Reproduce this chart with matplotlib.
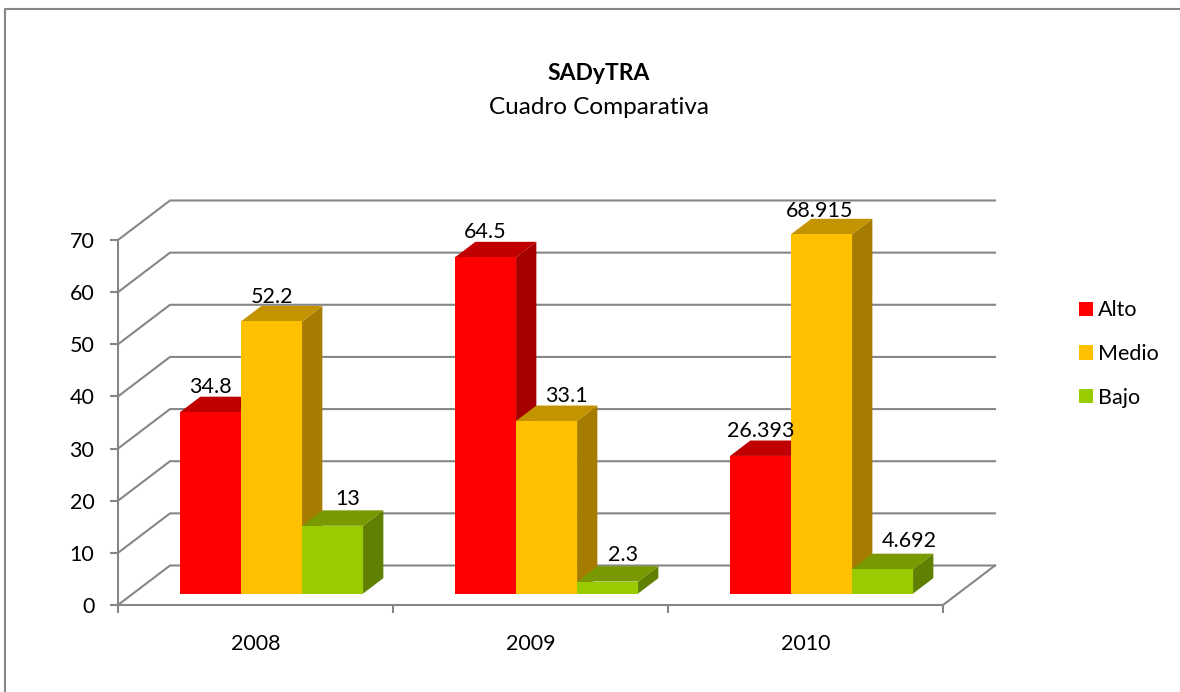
import matplotlib
matplotlib.use('Agg')
import matplotlib.pyplot as plt
from matplotlib.lines import Line2D
from matplotlib.patches import Patch, Polygon

plt.rcParams['font.family'] = ['Lato', 'DejaVu Sans']

years = ['2008', '2009', '2010']
series_names = ['Alto', 'Medio', 'Bajo']
alto = [34.8, 64.5, 26.393]
medio = [52.2, 33.1, 68.915]
bajo = [13, 2.3, 4.692]
value_labels = [['34.8', '64.5', '26.393'], ['52.2', '33.1', '68.915'], ['13', '2.3', '4.692']]

# front, top, side colours per series
colors = [('#FF0000', '#C00000', '#A60000'),
          ('#FFC000', '#C49400', '#A67C00'),
          ('#99CC00', '#789900', '#5F8000')]
grid_color = '#868686'

# label nudges (pixels) as the original chart has them moved by hand
label_dx = [[0, 0, 0], [0, 20, -2], [15, 15, 27]]
label_dy = [[25, 25, 25], [24, 25, 23], [27, 27, 28]]

W, H = 1180, 692
fig = plt.figure(figsize=(W / 100, H / 100), dpi=100)
left, right, top, bottom = 118, 943, 240, 605
ax = fig.add_axes([left / W, 1 - bottom / H, (right - left) / W, (bottom - top) / H])
ax.set_xlim(0, 3)
ax.set_ylim(0, 70)
ax.patch.set_visible(False)

# oblique projection: depth 1 is the back wall
unit_x = (right - left) / 3
unit_y = (bottom - top) / 70
depth_dx = 52 / unit_x
depth_dy = 39.5 / unit_y


def project(x, v, d):
    return x + d * depth_dx, v + d * depth_dy


# walls and gridlines
for v in range(0, 80, 10):
    pts = [project(0, v, 0), project(0, v, 1), project(3, v, 1)]
    ax.plot([p[0] for p in pts], [p[1] for p in pts], color=grid_color, lw=1.5, clip_on=False, zorder=1)
pts = [project(3, 0, 0), project(3, 0, 1)]
ax.plot([p[0] for p in pts], [p[1] for p in pts], color=grid_color, lw=1.5, clip_on=False, zorder=1)

# bars
bar_w = 61 / unit_x
gap = 47 / unit_x
d0, d1 = 0.29, 0.68
for s, values in enumerate([alto, medio, bajo]):
    for i, v in enumerate(values):
        x0 = i + gap + s * bar_w
        x1 = x0 + bar_w
        front = [project(x0, 0, d0), project(x1, 0, d0), project(x1, v, d0), project(x0, v, d0)]
        topf = [project(x0, v, d0), project(x1, v, d0), project(x1, v, d1), project(x0, v, d1)]
        side = [project(x1, 0, d0), project(x1, 0, d1), project(x1, v, d1), project(x1, v, d0)]
        for poly, col in [(side, colors[s][2]), (topf, colors[s][1]), (front, colors[s][0])]:
            ax.add_patch(Polygon(poly, closed=True, facecolor=col, edgecolor='none', clip_on=False, zorder=2 + s))
        cx = project(x0 + bar_w / 2, v, d0)
        ax.annotate(value_labels[s][i], xy=cx,
                    xytext=(label_dx[s][i] * 0.72, label_dy[s][i] * 0.72), textcoords='offset points',
                    ha='center', va='center', fontsize=15.5, color='black', zorder=10, annotation_clip=False)

# axes
for name in ['top', 'right']:
    ax.spines[name].set_visible(False)
for name in ['left', 'bottom']:
    ax.spines[name].set_color(grid_color)
    ax.spines[name].set_linewidth(1.5)
ax.set_yticks(range(0, 80, 10))
ax.tick_params(axis='y', length=6, width=1.5, color=grid_color, pad=11, labelsize=15.5)
ax.set_xticks([0, 1, 2, 3])
ax.set_xticklabels([])
ax.set_xticks([0.5, 1.5, 2.5], labels=years, minor=True)
ax.tick_params(axis='x', which='major', length=6, width=1.5, color=grid_color)
ax.tick_params(axis='x', which='minor', length=0, pad=20.7, labelsize=15.5)

# chart frame, runs off the right and bottom of the picture
fig.add_artist(Line2D([5 / W, 5 / W, 1], [0, 1 - 9 / H, 1 - 9 / H], color=grid_color, lw=1.5))

fig.text(599 / W, 1 - 73.5 / H, 'SADyTRA', ha='center', va='center', fontsize=16.5, fontweight='bold')
fig.text(599 / W, 1 - 107 / H, 'Cuadro Comparativa', ha='center', va='center', fontsize=17.5)

handles = [Patch(facecolor=colors[k][0], label=series_names[k]) for k in range(3)]
fig.legend(handles=handles, loc='upper left', bbox_to_anchor=(1079 / W, 1 - 300.5 / H), frameon=False,
           fontsize=15.5, borderpad=0, borderaxespad=0, handlelength=0.65, handleheight=0.65,
           handletextpad=0.25, labelspacing=1.1)

fig.savefig('out.png', dpi=100)
